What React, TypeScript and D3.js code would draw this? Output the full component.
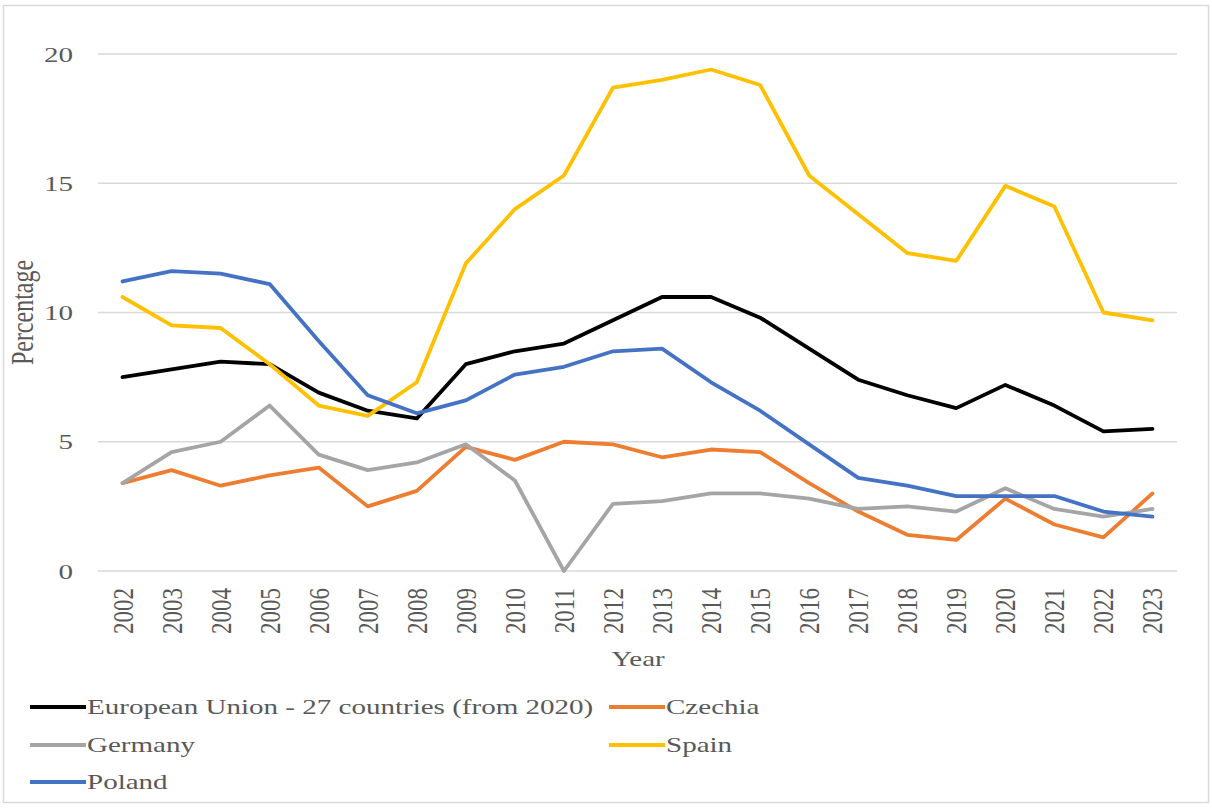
import React, { useEffect, useRef } from "react";
import * as d3 from "d3";

const years = [
  "2002", "2003", "2004", "2005", "2006", "2007", "2008", "2009", "2010", "2011", "2012",
  "2013", "2014", "2015", "2016", "2017", "2018", "2019", "2020", "2021", "2022", "2023",
];

const euValues = [7.5, 7.8, 8.1, 8.0, 6.9, 6.2, 5.9, 8.0, 8.5, 8.8, 9.7, 10.6, 10.6, 9.8, 8.6, 7.4, 6.8, 6.3, 7.2, 6.4, 5.4, 5.5];
const czechiaValues = [3.4, 3.9, 3.3, 3.7, 4.0, 2.5, 3.1, 4.8, 4.3, 5.0, 4.9, 4.4, 4.7, 4.6, 3.4, 2.3, 1.4, 1.2, 2.8, 1.8, 1.3, 3.0];
const germanyValues = [3.4, 4.6, 5.0, 6.4, 4.5, 3.9, 4.2, 4.9, 3.5, 0.0, 2.6, 2.7, 3.0, 3.0, 2.8, 2.4, 2.5, 2.3, 3.2, 2.4, 2.1, 2.4];
const spainValues = [10.6, 9.5, 9.4, 8.0, 6.4, 6.0, 7.3, 11.9, 14.0, 15.3, 18.7, 19.0, 19.4, 18.8, 15.3, 13.8, 12.3, 12.0, 14.9, 14.1, 10.0, 9.7];
const polandValues = [11.2, 11.6, 11.5, 11.1, 8.9, 6.8, 6.1, 6.6, 7.6, 7.9, 8.5, 8.6, 7.3, 6.2, 4.9, 3.6, 3.3, 2.9, 2.9, 2.9, 2.3, 2.1];

const seriesNames = ["European Union - 27 countries (from 2020)", "Czechia", "Germany", "Spain", "Poland"];
const seriesColors = ["#000000", "#ED7D31", "#A5A5A5", "#FFC000", "#4472C4"];
const seriesValues = [euValues, czechiaValues, germanyValues, spainValues, polandValues];

const yTicks = [0, 5, 10, 15, 20];

const W = 1212;
const H = 809;
const FONT = "'Liberation Serif', 'Times New Roman', serif";
const TEXT = "#595959";
// text glyphs are drawn horizontally widened
const SX = 1.32;

export default function App() {
  const ref = useRef<SVGSVGElement | null>(null);

  useEffect(() => {
    document.body.style.margin = "0";
    const svg = d3.select(ref.current);
    svg.selectAll("*").remove();

    const left = 98;
    const right = 1177;
    const top = 54;
    const bottom = 571;

    const x = d3.scalePoint<string>().domain(years).range([left, right]).padding(0.5);
    const y = d3.scaleLinear().domain([0, 20]).range([bottom, top]);

    svg.append("rect").attr("width", W).attr("height", H).attr("fill", "#fff");
    svg
      .append("rect")
      .attr("x", 3.5)
      .attr("y", 5.5)
      .attr("width", 1205)
      .attr("height", 797)
      .attr("fill", "none")
      .attr("stroke", "#d9d9d9")
      .attr("stroke-width", 1.5);

    // gridlines
    svg
      .append("g")
      .selectAll("line")
      .data(yTicks)
      .join("line")
      .attr("x1", left)
      .attr("x2", right)
      .attr("y1", (d) => y(d))
      .attr("y2", (d) => y(d))
      .attr("stroke", "#d9d9d9")
      .attr("stroke-width", 1.5);

    const txt = (size: number) => (g: d3.Selection<any, any, any, any>) =>
      g.attr("font-family", FONT).attr("font-size", size).attr("fill", TEXT);

    // y tick labels
    svg
      .append("g")
      .selectAll("text")
      .data(yTicks)
      .join("text")
      .attr("transform", (d) => `translate(73,${y(d)}) scale(${SX},1)`)
      .attr("dy", "0.35em")
      .attr("text-anchor", "end")
      .call(txt(22))
      .text((d) => String(d));

    // x tick labels (rotated)
    svg
      .append("g")
      .selectAll("text")
      .data(years)
      .join("text")
      .attr("transform", (d) => `translate(${x(d)!},588) scale(${SX},1) rotate(-90)`)
      .attr("dy", "0.33em")
      .attr("text-anchor", "end")
      .call(txt(23))
      .text((d) => d);

    // axis titles
    svg
      .append("text")
      .attr("transform", `translate(638,666) scale(${SX},1)`)
      .attr("text-anchor", "middle")
      .call(txt(22))
      .text("Year");

    svg
      .append("text")
      .attr("transform", `translate(33,${(top + bottom) / 2}) scale(${SX},1) rotate(-90)`)
      .attr("text-anchor", "middle")
      .call(txt(24))
      .text("Percentage");

    // series lines
    const line = d3
      .line<number>()
      .x((_, i) => x(years[i])!)
      .y((d) => y(d));

    svg
      .append("g")
      .selectAll("path")
      .data(seriesValues)
      .join("path")
      .attr("d", (d) => line(d))
      .attr("fill", "none")
      .attr("stroke", (_, i) => seriesColors[i])
      .attr("stroke-width", 3.8)
      .attr("stroke-linejoin", "round")
      .attr("stroke-linecap", "round");

    // legend
    const legendPos = [
      { x: 30, y: 707 },
      { x: 609, y: 707 },
      { x: 30, y: 745 },
      { x: 609, y: 745 },
      { x: 30, y: 782 },
    ];
    const lg = svg.append("g");
    seriesNames.forEach((name, i) => {
      const p = legendPos[i];
      lg.append("line")
        .attr("x1", p.x)
        .attr("x2", p.x + 56)
        .attr("y1", p.y)
        .attr("y2", p.y)
        .attr("stroke", seriesColors[i])
        .attr("stroke-width", 3.8);
      lg.append("text")
        .attr("transform", `translate(${p.x + 57},${p.y}) scale(${SX},1)`)
        .attr("dy", "0.3em")
        .call(txt(22))
        .text(name);
    });
  }, []);

  return <svg ref={ref} width={W} height={H} style={{ display: "block" }} />;
}
